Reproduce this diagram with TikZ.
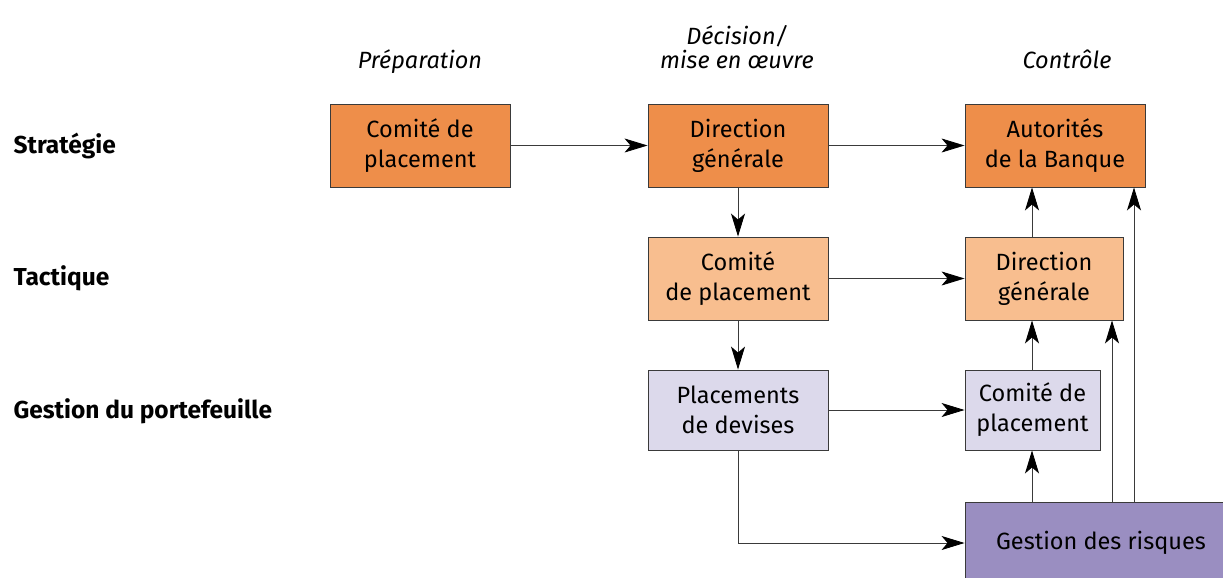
\documentclass[tikz,border=0pt]{standalone}
\usepackage{fontspec}
\setmainfont{Fira Sans}
\usetikzlibrary{arrows.meta}
\definecolor{orA}{HTML}{EE8E4A}
\definecolor{orB}{HTML}{F8BE8F}
\definecolor{lavA}{HTML}{DCD9EB}
\definecolor{purA}{HTML}{9A8EC1}
\definecolor{lineC}{HTML}{3A3A3A}
\begin{document}
\begin{tikzpicture}[x=1pt,y=-1pt,
  box/.style={draw=lineC, line width=0.9pt, align=center, inner sep=0pt,
    font=\fontsize{23.5}{30}\selectfont},
  arr/.style={draw=lineC, line width=0.8pt, -{Stealth[length=23pt,width=14pt,inset=6pt,color=black]}},
  rowlab/.style={anchor=west, font=\fontsize{24.5}{28}\selectfont\bfseries},
  collab/.style={align=center, font=\fontsize{23.5}{24}\selectfont\itshape}]
\useasboundingbox (0,0) rectangle (1223,578);
% column headers
\node[collab, anchor=base] (h1) at (420,68) {Préparation};
\node[collab, anchor=base] (h2) at (737,45) {Décision/};
\node[collab, anchor=base] (h2b) at (737,68) {mise en œuvre};
\node[collab, anchor=base] (h3) at (1067,68) {Contrôle};
% row labels
\node[rowlab, anchor=base west] (r1) at (10,153) {Stratégie};
\node[rowlab, anchor=base west] (r2) at (10,285) {Tactique};
\node[rowlab, anchor=base west] (r3) at (10,418) {Gestion du portefeuille};
% boxes
\node[box, fill=orA, minimum width=180pt, minimum height=83pt] (A) at (420,145.5) {Comité de\\placement};
\node[box, fill=orA, minimum width=180pt, minimum height=83pt] (B) at (738,145.5) {Direction\\générale};
\node[box, fill=orA, minimum width=180pt, minimum height=83pt] (C) at (1055,145.5) {Autorités\\de la Banque};
\node[box, fill=orB, minimum width=180pt, minimum height=83pt] (D) at (738,278.5) {Comité\\de placement};
\node[box, fill=orB, minimum width=158pt, minimum height=83pt] (E) at (1044,278.5) {Direction\\générale};
\node[box, fill=lavA, minimum width=180pt, minimum height=80pt] (F) at (738,410) {Placements\\de devises};
\node[box, fill=lavA, minimum width=135pt, minimum height=80pt] (G) at (1032.5,410) {Comité de\\placement};
\node[box, fill=purA, minimum width=272pt, minimum height=82pt] (H) at (1101,543) {Gestion des risques};
% connectors
\draw[arr] (A.east) -- (B.west);
\draw[arr] (B.east) -- (C.west);
\draw[arr] (B.south) -- (D.north);
\draw[arr] (D.east) -- (E.west);
\draw[arr] (D.south) -- (F.north);
\draw[arr] (F.east) -- (G.west);
\draw[arr] (F.south) |- (H.west);
\coordinate (x1) at (1032,0);
\coordinate (x2) at (1112,0);
\coordinate (x3) at (1134,0);
\draw[arr] (H.north -| x1) -- (G.south -| x1);
\draw[arr] (G.north -| x1) -- (E.south -| x1);
\draw[arr] (E.north -| x1) -- (C.south -| x1);
\draw[arr] (H.north -| x2) -- (E.south -| x2);
\draw[arr] (H.north -| x3) -- (C.south -| x3);
\end{tikzpicture}
\end{document}
